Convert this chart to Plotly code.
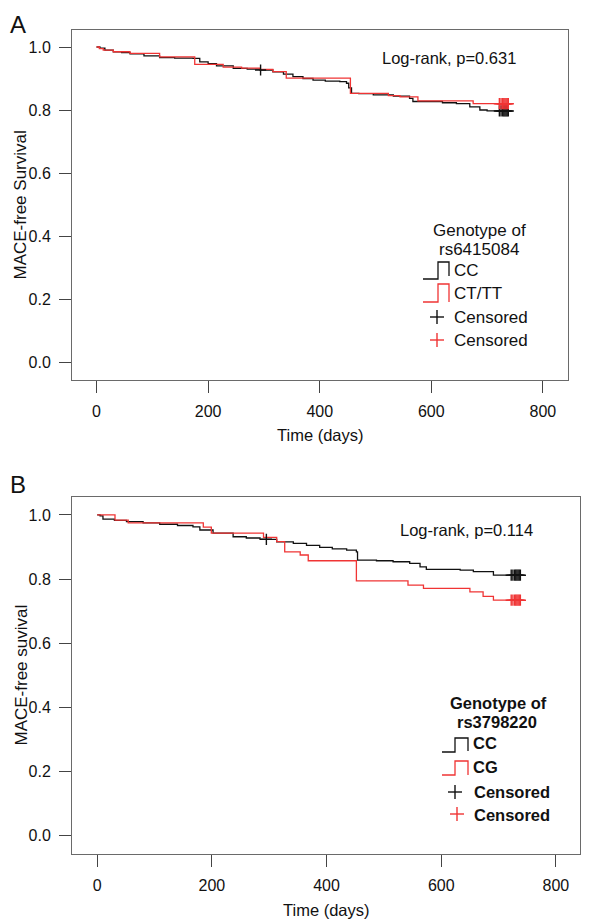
import plotly.graph_objects as go

# ---------------- Data ----------------
# Panel A: rs6415084
a_cc_t = [0, 6, 15, 30, 45, 60, 85, 113, 140, 173, 185, 200, 215, 245, 270, 293, 316, 335, 352,
          370, 388, 410, 436, 448, 452, 457, 470, 496, 532, 561, 567, 620, 645, 669, 687, 700, 738]
a_cc_s = [1.0, 0.996, 0.99, 0.985, 0.982, 0.978, 0.972, 0.966, 0.965, 0.964, 0.953, 0.947, 0.940,
          0.932, 0.930, 0.927, 0.921, 0.914, 0.906, 0.900, 0.895, 0.892, 0.890, 0.885, 0.870, 0.853,
          0.852, 0.848, 0.844, 0.837, 0.827, 0.823, 0.820, 0.810, 0.800, 0.797, 0.797]
a_ct_t = [0, 5, 12, 30, 60, 113, 176, 227, 260, 293, 316, 340, 455, 523, 544, 576, 675, 738]
a_ct_s = [1.0, 0.995, 0.99, 0.985, 0.98, 0.969, 0.945, 0.936, 0.933, 0.929, 0.922, 0.901,
          0.853, 0.846, 0.842, 0.829, 0.820, 0.820]
a_cc_cens_t = [294, 722, 725, 728, 730, 732, 734, 736, 738]
a_cc_cens_s = [0.927, 0.797, 0.797, 0.797, 0.797, 0.797, 0.797, 0.797, 0.797]
a_ct_cens_t = [722, 725, 728, 730, 732, 734, 736, 738]
a_ct_cens_s = [0.820, 0.820, 0.820, 0.820, 0.820, 0.820, 0.820, 0.820]

# Panel B: rs3798220
b_cc_t = [0, 5, 10, 30, 51, 80, 109, 140, 167, 179, 202, 237, 260, 284, 313, 342, 365, 388, 410,
          435, 452, 454, 487, 516, 545, 563, 574, 633, 656, 691, 738]
b_cc_s = [1.0, 0.997, 0.987, 0.983, 0.979, 0.975, 0.971, 0.967, 0.963, 0.953, 0.943, 0.932, 0.928,
          0.924, 0.916, 0.911, 0.905, 0.899, 0.894, 0.890, 0.885, 0.859, 0.857, 0.854, 0.849, 0.838,
          0.830, 0.828, 0.823, 0.812, 0.812]
b_cg_t = [0, 31, 54, 185, 199, 290, 313, 327, 354, 368, 452, 542, 569, 650, 673, 691, 738]
b_cg_s = [1.0, 0.984, 0.975, 0.962, 0.943, 0.930, 0.917, 0.885, 0.875, 0.857, 0.794, 0.781,
          0.771, 0.760, 0.746, 0.734, 0.734]
b_cc_cens_t = [295, 722, 725, 728, 730, 732, 734, 736, 738]
b_cc_cens_s = [0.924, 0.812, 0.812, 0.812, 0.812, 0.812, 0.812, 0.812, 0.812]
b_cg_cens_t = [722, 725, 728, 730, 732, 734, 736, 738]
b_cg_cens_s = [0.734, 0.734, 0.734, 0.734, 0.734, 0.734, 0.734, 0.734]

x_ticks = [0, 200, 400, 600, 800]
y_ticks = [0.0, 0.2, 0.4, 0.6, 0.8, 1.0]

BLACK = "#111111"
RED = "#f03434"
# The page body has an 8px default margin; size the figure so it fills the 600x922 window.
OFF = 8
W, H = 600 - OFF, 922 - OFF
FONT = "Liberation Sans, Arial, sans-serif"


def px(x):
    return (x - OFF) / W


def py(y):
    return 1 - (y - OFF) / H


fig = go.Figure()


def add_panel(xa, ya, t1, s1, t2, s2, c1t, c1s, c2t, c2s):
    fig.add_trace(go.Scatter(x=t1, y=s1, mode="lines", line=dict(color=BLACK, width=1.3, shape="hv"),
                             xaxis=xa, yaxis=ya, showlegend=False))
    fig.add_trace(go.Scatter(x=t2, y=s2, mode="lines", line=dict(color=RED, width=1.3, shape="hv"),
                             xaxis=xa, yaxis=ya, showlegend=False))
    fig.add_trace(go.Scatter(x=c1t, y=c1s, mode="markers",
                             marker=dict(symbol="cross-thin", size=8, line=dict(color=BLACK, width=1.4)),
                             xaxis=xa, yaxis=ya, showlegend=False))
    fig.add_trace(go.Scatter(x=c2t, y=c2s, mode="markers",
                             marker=dict(symbol="cross-thin", size=8, line=dict(color=RED, width=1.4)),
                             xaxis=xa, yaxis=ya, showlegend=False))


add_panel("x", "y", a_cc_t, a_cc_s, a_ct_t, a_ct_s, a_cc_cens_t, a_cc_cens_s, a_ct_cens_t, a_ct_cens_s)
add_panel("x2", "y2", b_cc_t, b_cc_s, b_cg_t, b_cg_s, b_cc_cens_t, b_cc_cens_s, b_cg_cens_t, b_cg_cens_s)

axis_common = dict(showline=True, mirror=True, linecolor="#6a6a6a", linewidth=1,
                   ticks="outside", ticklen=12, tickwidth=1.3, tickcolor="#444444",
                   showgrid=False, zeroline=False, ticklabelstandoff=5,
                   tickfont=dict(family=FONT, size=16, color="#111"))

fig.update_layout(
    width=W, height=H,
    margin=dict(l=0, r=0, t=0, b=0),
    paper_bgcolor="white", plot_bgcolor="white",
    font=dict(family=FONT, color="#111"),
    xaxis=dict(domain=[px(72), px(568)], range=[-44, 845], tickvals=x_ticks, anchor="y", **axis_common),
    yaxis=dict(domain=[py(380), py(30)], range=[-0.057, 1.054], tickvals=y_ticks, tickformat=".1f",
               anchor="x", **axis_common),
    xaxis2=dict(domain=[px(72), px(580)], range=[-44, 842], tickvals=x_ticks, anchor="y2", **axis_common),
    yaxis2=dict(domain=[py(854), py(497)], range=[-0.058, 1.056], tickvals=y_ticks, tickformat=".1f",
                anchor="x2", **axis_common),
)

annotations = []


def text(x, y, t, size=16, xanchor="left", bold=False, angle=0, yanchor="middle"):
    annotations.append(dict(x=px(x), y=py(y), xref="paper", yref="paper", text=(f"<b>{t}</b>" if bold else t),
                            showarrow=False, xanchor=xanchor, yanchor=yanchor, textangle=angle,
                            font=dict(family=FONT, size=size, color="#111")))


# Panel letters (kept inside the figure area)
text(8, 9, "A", size=24, xanchor="left", yanchor="top")
text(8, 469, "B", size=24, xanchor="left", yanchor="top")

# Axis titles
text(9, 205, "MACE-free Survival", size=17, xanchor="left", angle=-90)
text(9, 675, "MACE-free suvival", size=17, xanchor="left", angle=-90)
text(320, 435, "Time (days)", size=16.5, xanchor="center")
text(326, 910, "Time (days)", size=16.5, xanchor="center")

# Log-rank
text(380, 58, "Log-rank, p=0.631", size=16.5)
text(398, 530, "Log-rank, p=0.114", size=16.5)

# Legend A
text(479, 230, "Genotype of", size=17, xanchor="center")
text(479, 249, "rs6415084", size=17, xanchor="center")
text(452, 270, "CC", size=17)
text(452, 294, "CT/TT", size=17)
text(452, 317, "Censored", size=17)
text(452, 340, "Censored", size=17)

# Legend B
text(498, 703, "Genotype of", size=16.5, xanchor="center", bold=True)
text(497, 722, "rs3798220", size=16.5, xanchor="center", bold=True)
text(471, 743, "CC", size=16.5, bold=True)
text(471, 767, "CG", size=16.5, bold=True)
text(472, 792, "Censored", size=16.5, bold=True)
text(472, 815, "Censored", size=16.5, bold=True)

fig.update_layout(annotations=annotations)

shapes = []


def step_glyph(x0, y_low, x1, x2, y_high, color, y_end):
    path = (f"M {px(x0)},{py(y_low)} L {px(x1)},{py(y_low)} L {px(x1)},{py(y_high)} "
            f"L {px(x2)},{py(y_high)} L {px(x2)},{py(y_end)}")
    shapes.append(dict(type="path", path=path, xref="paper", yref="paper",
                       line=dict(color=color, width=1.3)))


def plus_glyph(cx, cy, color, half=7):
    shapes.append(dict(type="line", xref="paper", yref="paper", x0=px(cx - half), x1=px(cx + half),
                       y0=py(cy), y1=py(cy), line=dict(color=color, width=1.4)))
    shapes.append(dict(type="line", xref="paper", yref="paper", x0=px(cx), x1=px(cx),
                       y0=py(cy - half), y1=py(cy + half), line=dict(color=color, width=1.4)))


step_glyph(423, 279, 438, 449, 262, BLACK, 276)
step_glyph(423, 302, 438, 449, 284, RED, 302)
plus_glyph(437, 317, BLACK)
plus_glyph(437, 340, RED)

step_glyph(442, 752, 455, 468, 738, BLACK, 751)
step_glyph(442, 775, 455, 468, 761, RED, 775)
plus_glyph(455, 792, BLACK)
plus_glyph(457, 814, RED)

fig.update_layout(shapes=shapes)

fig.write_html("out.html")
